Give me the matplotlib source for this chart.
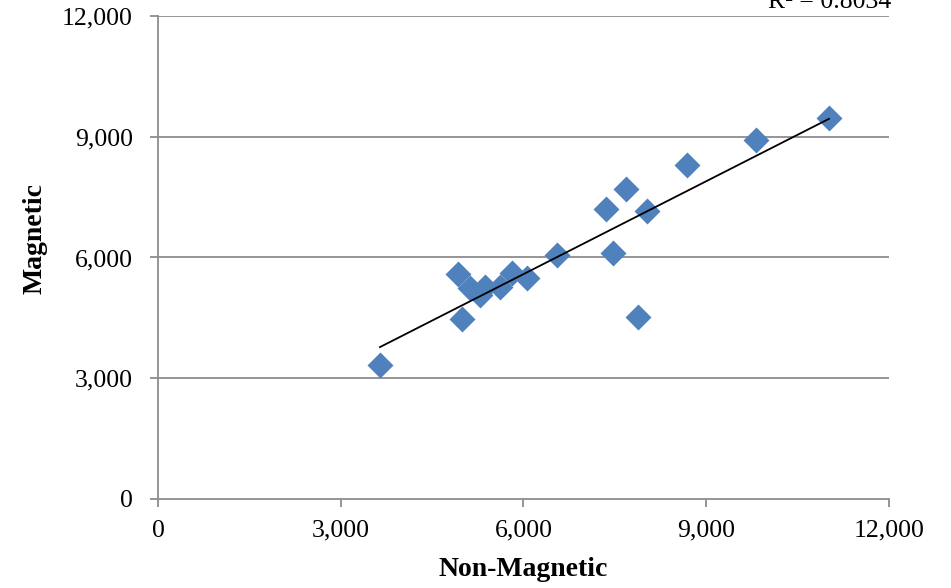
import matplotlib.pyplot as plt
import numpy as np
from matplotlib.ticker import FuncFormatter

non_magnetic = [3644, 4925, 4990, 5121, 5286, 5368, 5614, 5811, 6057,
                6550, 7354, 7469, 7682, 7879, 8027, 8683, 9816, 11015]
magnetic = [3329, 5590, 4472, 5242, 5068, 5267, 5267, 5615, 5491,
            6062, 7205, 6112, 7702, 4522, 7155, 8298, 8919, 9466]
r2_label = "R\u00b2 = 0.8034"

x = np.array(non_magnetic)
y = np.array(magnetic)
slope, intercept = np.polyfit(x, y, 1)

plt.rcParams["font.family"] = ["Liberation Serif", "DejaVu Serif"]

fig = plt.figure(figsize=(9.51, 5.88), dpi=100)
ax = fig.add_axes([0.1661, 0.1514, 0.7687, 0.8214])

for v in range(3000, 12001, 3000):
    ax.axhline(v, color="#8c8c8c", lw=1.3, zorder=1)

ax.scatter(x, y, marker="D", s=175, color="#4f81bd", zorder=3, linewidths=0)
xs = np.array([x.min(), x.max()])
ax.plot(xs, slope * xs + intercept, color="black", lw=1.3, zorder=4)

ax.set_xlim(0, 12000)
ax.set_ylim(0, 12000)
ax.set_xticks(range(0, 12001, 3000))
ax.set_yticks(range(0, 12001, 3000))
fmt = FuncFormatter(lambda v, p: f"{int(v):,}")
ax.xaxis.set_major_formatter(fmt)
ax.yaxis.set_major_formatter(fmt)
ax.tick_params(labelsize=18.5, color="#8c8c8c", length=6, width=1.3)
ax.tick_params(axis="y", pad=12)
ax.tick_params(axis="x", pad=9)

for s in ["top", "right"]:
    ax.spines[s].set_visible(False)
for s in ["left", "bottom"]:
    ax.spines[s].set_color("#8c8c8c")
    ax.spines[s].set_linewidth(1.3)

fig.text(523 / 951, 1 - 570 / 588, "Non-Magnetic", fontsize=20, fontweight="bold",
         ha="center", va="center")
fig.text(35 / 951, 1 - 238 / 588, "Magnetic", fontsize=20, fontweight="bold",
         ha="center", va="center", rotation=90)

fig.text(830 / 951, 1 - 8 / 588, r2_label, fontsize=18.5, ha="center", va="baseline")

fig.savefig("out.png", dpi=100)
